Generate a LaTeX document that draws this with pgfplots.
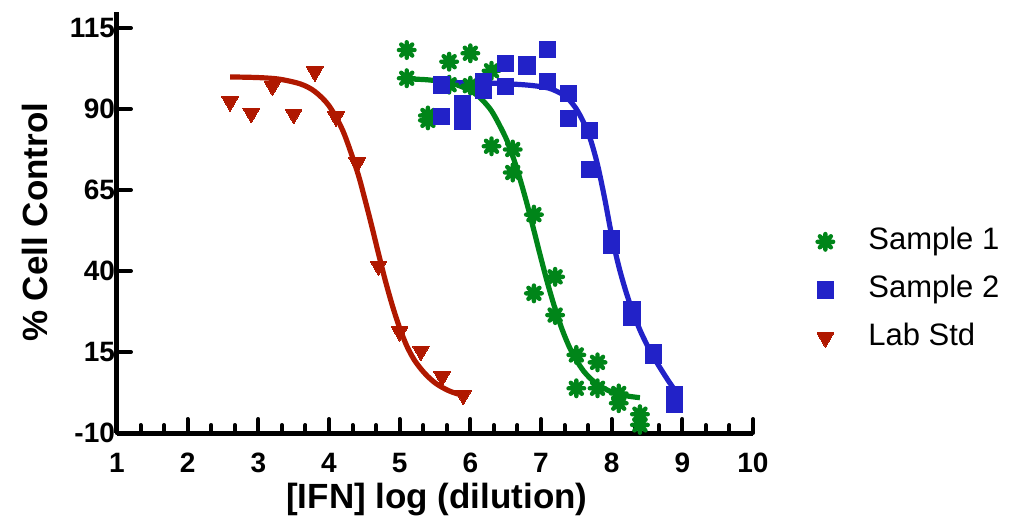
\documentclass[border=0pt]{standalone}
\usepackage{pgfplots}
\pgfplotsset{compat=1.18}
\usepackage{fontspec}
\setmainfont{Liberation Sans}
\definecolor{sgreen}{RGB}{0,133,25}
\definecolor{sblue}{RGB}{34,34,200}
\definecolor{sred}{RGB}{176,24,0}
\pgfdeclareplotmark{ast8}{%
  \pgfsetroundcap
  \pgfpathmoveto{\pgfqpoint{-\pgfplotmarksize}{0pt}}\pgfpathlineto{\pgfqpoint{\pgfplotmarksize}{0pt}}%
  \pgfpathmoveto{\pgfqpoint{0pt}{-\pgfplotmarksize}}\pgfpathlineto{\pgfqpoint{0pt}{\pgfplotmarksize}}%
  \pgfpathmoveto{\pgfqpoint{-0.7071\pgfplotmarksize}{-0.7071\pgfplotmarksize}}\pgfpathlineto{\pgfqpoint{0.7071\pgfplotmarksize}{0.7071\pgfplotmarksize}}%
  \pgfpathmoveto{\pgfqpoint{-0.7071\pgfplotmarksize}{0.7071\pgfplotmarksize}}\pgfpathlineto{\pgfqpoint{0.7071\pgfplotmarksize}{-0.7071\pgfplotmarksize}}%
  \pgfusepathqstroke
  \pgfpathcircle{\pgfpointorigin}{0.5\pgfplotmarksize}\pgfusepathqfillstroke
}
\begin{document}
\begin{tikzpicture}
\useasboundingbox (-58.5pt,-47pt) rectangle (448.5pt,216.5pt);
\begin{axis}[
  scale only axis, width=318pt, height=210.6pt,
  xmin=1, xmax=10, ymin=-10, ymax=120,
  axis lines*=left,
  axis line style={line width=2.5pt, -},
  tick align=inside,
  tick style={line width=2pt, line cap=round, black},
  major tick length=7pt, minor tick length=4pt,
  xtick={1,2,3,4,5,6,7,8,9,10},
  xticklabels={1,2,3,4,5,6,7,8,9,10},
  minor x tick num=2,
  ytick={-10,15,40,65,90,115},
  yticklabels={-10,15,40,65,90,115},
  ticklabel style={font=\bfseries\fontsize{14}{14}\selectfont},
  xticklabel style={yshift=-6.5pt},
  yticklabel style={xshift=2.5pt},
  xlabel={[IFN] log (dilution)},
  ylabel={\% Cell Control},
  every axis x label/.style={at={(axis description cs:0.503,-0.159)}, anchor=center, font=\bfseries\fontsize{17.5}{18}\selectfont},
  every axis y label/.style={at={(axis description cs:-0.129,0.5)}, rotate=90, anchor=center, font=\bfseries\fontsize{17.5}{18}\selectfont},
  legend style={at={(axis description cs:1.099,0.34)}, anchor=west, draw=none, fill=none,
    inner sep=0pt, row sep=10pt, font=\fontsize{15.5}{18}\selectfont,
    nodes={inner sep=0pt, text height=11pt, text depth=3pt}},
  legend cell align=left,
  legend image code/.code={\draw[#1] plot coordinates {(4.5pt,0pt)}; \path[draw=none,fill=none] (0pt,-5pt) rectangle (26pt,5pt);},
  clip=false,
]
% Sample 1
\addplot[sgreen, line width=2.6pt, smooth, forget plot] coordinates {
(5.1,99.3)(5.4,99.0)(5.7,98.1)(5.9,96.7)(6.1,94.2)(6.3,89.4)(6.5,81.2)(6.6,75.5)(6.7,68.6)(6.8,60.9)(6.9,52.5)(7.0,43.9)(7.1,35.7)(7.2,28.3)(7.3,21.9)(7.4,16.6)(7.5,12.5)(7.6,9.2)(7.7,6.8)(7.8,5.0)(7.9,3.7)(8.0,2.7)(8.2,1.5)(8.4,0.9)};
\addplot[sgreen, only marks, mark=ast8, mark size=3.9pt, mark options={line width=2.2pt, fill=sgreen}] coordinates {
(5.1,108.2)(5.1,99.5)(5.4,88.0)(5.4,86.5)(5.7,104.6)(5.7,97.5)(6.0,107.2)(6.0,97.2)
(6.3,101.8)(6.3,78.5)(6.6,77.5)(6.6,70.4)(6.9,57.4)(6.9,33.1)(7.2,38.2)(7.2,26.4)
(7.5,14.1)(7.5,3.8)(7.8,11.8)(7.8,3.8)(8.1,2.2)(8.1,-0.8)(8.4,-4.2)(8.4,-7.5)};
\addlegendentry{Sample 1}
% Sample 2
\addplot[sblue, line width=2.6pt, smooth, forget plot] coordinates {
(5.6,98.2)(6.0,98.1)(6.4,97.9)(6.8,97.4)(7.1,96.5)(7.3,94.6)(7.4,92.8)(7.5,90.0)(7.6,86.0)(7.7,80.6)(7.8,72.8)(7.9,62.5)(8.0,51.0)(8.1,41.5)(8.2,33.8)(8.3,27.3)(8.4,21.8)(8.5,17.2)(8.6,13.2)(8.7,9.6)(8.8,6.2)(8.9,3.0)};
\addplot[sblue, only marks, mark=square*, mark size=4.1pt, mark options={line width=0pt, draw=sblue, fill=sblue}] coordinates {
(5.59,97.4)(5.59,87.6)(5.89,91.5)(5.89,86.2)(6.19,98.4)(6.19,95.9)(6.5,104.1)(6.5,96.9)
(6.8,103.8)(6.8,103.2)(7.09,108.4)(7.09,98.4)(7.39,94.7)(7.39,87.1)(7.69,83.3)(7.69,71.3)
(8.0,50.1)(8.0,48.0)(8.29,28.0)(8.29,25.6)(8.59,14.9)(8.59,14.1)(8.89,1.7)(8.89,-1.0)};
\addlegendentry{Sample 2}
% Lab Std
\addplot[sred, line width=2.6pt, smooth, forget plot] coordinates {
(2.6,99.9)(3.0,99.7)(3.3,99.2)(3.6,97.7)(3.8,95.4)(4.0,91.0)(4.2,83.1)(4.4,70.7)(4.5,62.8)(4.6,54.3)(4.7,45.4)(4.8,36.8)(4.9,29.1)(5.0,22.4)(5.1,16.9)(5.2,12.8)(5.3,9.8)(5.4,7.4)(5.5,5.5)(5.6,4.1)(5.7,3.0)(5.8,2.2)(5.9,1.6)};
\addplot[sred, only marks, mark=triangle*, mark size=4.8pt, mark options={rotate=180, line width=0pt, draw=sred, fill=sred}] coordinates {
(2.6,92.3)(2.9,88.7)(3.2,97.1)(3.5,88.4)(3.8,101.5)(4.1,87.6)(4.4,73.4)(4.7,41.6)(5.0,21.3)(5.3,15.3)(5.6,7.4)(5.9,1.7)};
\addlegendentry{Lab Std}
\end{axis}
\end{tikzpicture}
\end{document}
